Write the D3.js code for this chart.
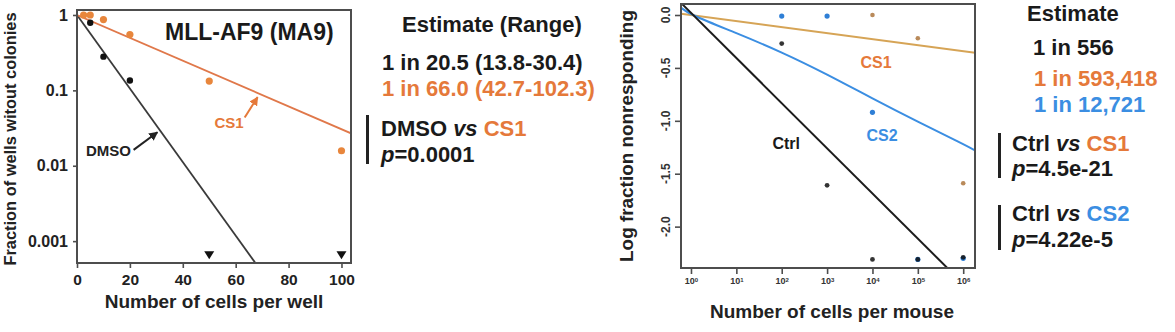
<!DOCTYPE html>
<html><head><meta charset="utf-8">
<script src="https://cdn.jsdelivr.net/npm/d3@7"></script>
<style>
html,body{margin:0;padding:0;background:#fff;}
svg{display:block;font-family:"Liberation Sans",Arial,Helvetica,sans-serif;}
</style></head><body>
<svg id="chart" width="1175" height="332"></svg>
<script>
// ---------- Left panel: colony-forming limiting dilution (MLL-AF9) ----------
const wellTicks = [0, 20, 40, 60, 80, 100];
const fractionTicks = [1, 0.1, 0.01, 0.001];
const fractionTickLabels = ["1", "0.1", "0.01", "0.001"];
const dmsoDoses = [5, 10, 20];
const dmsoFraction = [0.79, 0.28, 0.135];
const dmsoZeroDoses = [50, 100];          // no colony-free wells: drawn as triangles at floor
const dmsoZeroLevel = 0.00065;
const cs1WellDoses = [2.5, 5, 10, 20, 50, 100];
const cs1WellFraction = [1.0, 1.0, 0.87, 0.55, 0.133, 0.0158];
const wellEstimates = { dmso: 20.5, cs1: 66.0 };   // 1 in N

// ---------- Right panel: in vivo limiting dilution ----------
const mouseTicks = [1, 10, 100, 1e3, 1e4, 1e5, 1e6];
const logFracTicks = [0, -0.5, -1, -1.5, -2];
const logFracTickLabels = ["0.0", "-0.5", "-1.0", "-1.5", "-2.0"];
const mouseDoses = [1e2, 1e3, 1e4, 1e5, 1e6];
const ctrlLogFrac = [-0.27, -1.61, -2.31, -2.31, -2.29];
const cs2LogFrac = [-0.01, -0.01, -0.92, -2.31, -2.30];
const cs1MouseDoses = [1e4, 1e5, 1e6];
const cs1LogFrac = [0.0, -0.22, -1.59];
// fitted lines
const ctrlFitDoses = [0.6026, 1e6];
const ctrlFitVals = [0.114, -2.54];
const cs1FitDoses = [0.6026, 1.82e6];
const cs1FitVals = [0.013, -0.357];
const cs2FitDoses = [0.6026, 1, 10, 100, 1e3, 1e4, 1e5, 1e6, 1.82e6];
const cs2FitVals = [0.07, 0.0, -0.17, -0.35, -0.56, -0.79, -1.01, -1.22, -1.28];

const BLACK = "#1c1c1c", ORANGE = "#e5793a", ORANGE_LINE = "#e0784a",
      TAN = "#d6a456", BLUE = "#3b8ee2", FRAME = "#4d4d4d";

const svg = d3.select("#chart");
const defs = svg.append("defs");
function arrowMarker(id, color) {
  defs.append("marker").attr("id", id).attr("viewBox", "0 0 10 10")
    .attr("refX", 9).attr("refY", 5).attr("markerWidth", 9).attr("markerHeight", 9)
    .attr("markerUnits", "userSpaceOnUse").attr("orient", "auto")
    .append("path").attr("d", "M0,0 L10,5 L0,10 z").attr("fill", color);
}
arrowMarker("arrBlack", "#222");
arrowMarker("arrOrange", ORANGE);

// ===== Left panel =====
const L = { left: 77, right: 351, top: 10, bottom: 263 };
const xL = d3.scaleLinear().domain([0, 103.6]).range([L.left, L.right]);
const yL = d3.scaleLog().domain([Math.pow(10, -3.29), Math.pow(10, 0.066)]).range([L.bottom, L.top]);

const gL = svg.append("g");
gL.append("defs").append("clipPath").attr("id", "clipL")
  .append("rect").attr("x", L.left).attr("y", L.top)
  .attr("width", L.right - L.left).attr("height", L.bottom - L.top);

// fitted single-hit lines: fraction = 10^(-dose / estimate)
const fitLine = d3.line().x(d => xL(d[0])).y(d => yL(d[1]));
[["dmso", "#3a3a3a"], ["cs1", ORANGE_LINE]].forEach(([k, c]) => {
  const est = wellEstimates[k];
  const xEnd = 103.6;
  gL.append("path")
    .attr("d", fitLine([[0, 1], [xEnd, Math.pow(10, -xEnd / est)]]))
    .attr("clip-path", "url(#clipL)")
    .attr("fill", "none").attr("stroke", c).attr("stroke-width", 1.8);
});

gL.selectAll(".cs1pt").data(cs1WellDoses).join("circle")
  .attr("cx", (d) => xL(d)).attr("cy", (d, i) => yL(cs1WellFraction[i]))
  .attr("r", 3.6).attr("fill", "#e8863c");
gL.selectAll(".dmsopt").data(dmsoDoses).join("circle")
  .attr("cx", d => xL(d)).attr("cy", (d, i) => yL(dmsoFraction[i]))
  .attr("r", 3.2).attr("fill", "#111");
gL.selectAll(".tri").data(dmsoZeroDoses).join("path")
  .attr("transform", d => `translate(${xL(d)},${yL(dmsoZeroLevel)})`)
  .attr("d", "M-5,-4 L5,-4 L0,4 z").attr("fill", "#111");

// axes
const axXL = gL.append("g").attr("transform", `translate(0,${L.bottom})`)
  .call(d3.axisBottom(xL).tickValues(wellTicks).tickSize(5).tickPadding(6).tickSizeOuter(0));
const axYL = gL.append("g").attr("transform", `translate(${L.left},0)`)
  .call(d3.axisLeft(yL).tickValues(fractionTicks).tickSize(4).tickPadding(5).tickSizeOuter(0)
    .tickFormat((d, i) => fractionTickLabels[i]));
[axXL, axYL].forEach(a => {
  a.select(".domain").remove();
  a.selectAll("line").attr("stroke", FRAME).attr("stroke-width", 1.6);
  a.selectAll("text").attr("font-size", 15.5).attr("font-weight", "bold").attr("fill", "#222")
    .attr("font-family", '"Liberation Sans", Arial, sans-serif');
});
axYL.selectAll("text").attr("font-size", 16);
gL.append("rect").attr("x", L.left).attr("y", L.top)
  .attr("width", L.right - L.left).attr("height", L.bottom - L.top)
  .attr("fill", "none").attr("stroke", FRAME).attr("stroke-width", 2);

gL.append("text").attr("x", 214).attr("y", 308).attr("text-anchor", "middle")
  .attr("font-size", 19).attr("font-weight", "bold").attr("fill", "#222")
  .text("Number of cells per well");
gL.append("text").attr("transform", "translate(16,139) rotate(-90)").attr("text-anchor", "middle")
  .attr("font-size", 16.4).attr("font-weight", "bold").attr("fill", "#222")
  .text("Fraction of wells witout colonies");
gL.append("text").attr("x", 165).attr("y", 40).attr("font-size", 23)
  .attr("font-weight", "bold").attr("fill", "#1a1a1a").text("MLL-AF9 (MA9)");

// labels with arrows
gL.append("text").attr("x", xL(57.5)).attr("y", yL(Math.pow(10, -1.42)) + 6)
  .attr("text-anchor", "middle").attr("font-size", 15).attr("font-weight", "bold")
  .attr("fill", ORANGE).text("CS1");
gL.append("line").attr("x1", xL(63.4)).attr("y1", yL(Math.pow(10, -1.36)))
  .attr("x2", xL(68.3)).attr("y2", yL(Math.pow(10, -1.09)))
  .attr("stroke", ORANGE).attr("stroke-width", 2).attr("marker-end", "url(#arrOrange)");
gL.append("text").attr("x", xL(11.9)).attr("y", yL(Math.pow(10, -1.793)) + 6)
  .attr("text-anchor", "middle").attr("font-size", 15).attr("font-weight", "bold")
  .attr("fill", "#222").text("DMSO");
gL.append("line").attr("x1", xL(21.4)).attr("y1", yL(Math.pow(10, -1.79)))
  .attr("x2", xL(30.4)).attr("y2", yL(Math.pow(10, -1.555)))
  .attr("stroke", "#222").attr("stroke-width", 2).attr("marker-end", "url(#arrBlack)");

// estimate block (left)
const tb = svg.append("g").attr("font-size", 22).attr("font-weight", "bold");
tb.append("text").attr("x", 402).attr("y", 32).attr("fill", "#1a1a1a").text("Estimate (Range)");
tb.append("text").attr("x", 382).attr("y", 70).attr("fill", "#1a1a1a").text("1 in 20.5 (13.8-30.4)");
tb.append("text").attr("x", 382).attr("y", 96).attr("fill", ORANGE).text("1 in 66.0 (42.7-102.3)");
tb.append("rect").attr("x", 366).attr("y", 115).attr("width", 3).attr("height", 49).attr("fill", "#222");
const t1 = tb.append("text").attr("x", 381).attr("y", 136).attr("fill", "#1a1a1a");
t1.append("tspan").text("DMSO ");
t1.append("tspan").attr("font-style", "italic").text("vs ");
t1.append("tspan").attr("fill", ORANGE).text("CS1");
const t2 = tb.append("text").attr("x", 381).attr("y", 162).attr("fill", "#1a1a1a");
t2.append("tspan").attr("font-style", "italic").text("p");
t2.append("tspan").text("=0.0001");

// ===== Right panel =====
const R = { left: 681, right: 975, top: 4, bottom: 268 };
const xR = d3.scaleLog().domain([Math.pow(10, -0.22), Math.pow(10, 6.26)]).range([R.left, R.right]);
const yR = d3.scaleLinear().domain([-2.391, 0.104]).range([R.bottom, R.top]);
const gR = svg.append("g");
gR.append("defs").append("clipPath").attr("id", "clipR")
  .append("rect").attr("x", R.left).attr("y", R.top)
  .attr("width", R.right - R.left).attr("height", R.bottom - R.top);

const zipR = (a, b) => a.map((d, i) => [d, b[i]]);
const straightR = d3.line().x(d => xR(d[0])).y(d => yR(d[1]));
const smoothR = d3.line().x(d => xR(d[0])).y(d => yR(d[1])).curve(d3.curveBasis);
gR.append("path").attr("d", straightR(zipR(cs1FitDoses, cs1FitVals))).attr("clip-path", "url(#clipR)")
  .attr("fill", "none").attr("stroke", TAN).attr("stroke-width", 2);
gR.append("path").attr("d", smoothR(zipR(cs2FitDoses, cs2FitVals)))
  .attr("clip-path", "url(#clipR)")
  .attr("fill", "none").attr("stroke", BLUE).attr("stroke-width", 2);
gR.append("path").attr("d", straightR(zipR(ctrlFitDoses, ctrlFitVals)))
  .attr("clip-path", "url(#clipR)")
  .attr("fill", "none").attr("stroke", BLACK).attr("stroke-width", 2);

gR.selectAll(".c1").data(cs1MouseDoses).join("circle")
  .attr("cx", d => xR(d)).attr("cy", (d, i) => yR(cs1LogFrac[i])).attr("r", 2.3).attr("fill", "#b98a5a");
gR.selectAll(".c2").data(mouseDoses).join("circle")
  .attr("cx", d => xR(d)).attr("cy", (d, i) => yR(cs2LogFrac[i])).attr("r", 2.6).attr("fill", "#2f7fd6");
gR.selectAll(".ct").data(mouseDoses).join("circle")
  .attr("cx", d => xR(d)).attr("cy", (d, i) => yR(ctrlLogFrac[i])).attr("r", 2.4).attr("fill", "#111")
  .attr("fill-opacity", 0.85);

const axXR = gR.append("g").attr("transform", `translate(0,${R.bottom})`)
  .call(d3.axisBottom(xR).tickValues(mouseTicks).tickSize(6).tickPadding(4).tickSizeOuter(0)
    .tickFormat(() => ""));
axXR.select(".domain").remove();
axXR.selectAll("line").attr("stroke", FRAME).attr("stroke-width", 1.6);
axXR.selectAll(".tick text").each(function (d) {
  const t = d3.select(this).attr("font-size", 9).attr("font-weight", "bold").attr("fill", "#333")
    .attr("font-family", '"Liberation Sans", Arial, sans-serif');
  t.append("tspan").text("10");
  t.append("tspan").attr("font-size", 6).attr("dy", "-0.45em").text(Math.round(Math.log10(d)));
});
const axYR = gR.append("g").attr("transform", `translate(${R.left},0)`)
  .call(d3.axisLeft(yR).tickValues(logFracTicks).tickSize(6).tickSizeOuter(0).tickFormat(() => ""));
axYR.select(".domain").remove();
axYR.selectAll("line").attr("stroke", FRAME).attr("stroke-width", 1.6);
gR.selectAll(".ylab").data(logFracTicks).join("text")
  .attr("transform", d => `translate(670,${yR(d)}) rotate(-90)`)
  .attr("text-anchor", "middle").attr("font-size", 12).attr("font-weight", "bold").attr("fill", "#333")
  .text((d, i) => logFracTickLabels[i]);
gR.append("rect").attr("x", R.left).attr("y", R.top)
  .attr("width", R.right - R.left).attr("height", R.bottom - R.top)
  .attr("fill", "none").attr("stroke", FRAME).attr("stroke-width", 2);

gR.append("text").attr("x", 832).attr("y", 318).attr("text-anchor", "middle")
  .attr("font-size", 19).attr("font-weight", "bold").attr("fill", "#222")
  .text("Number of cells per mouse");
gR.append("text").attr("transform", "translate(633,136) rotate(-90)").attr("text-anchor", "middle")
  .attr("font-size", 18.9).attr("font-weight", "bold").attr("fill", "#222")
  .text("Log fraction nonresponding");

gR.append("text").attr("x", xR(Math.pow(10, 4.08))).attr("y", yR(-0.444) + 6).attr("text-anchor", "middle")
  .attr("font-size", 16).attr("font-weight", "bold").attr("fill", ORANGE).text("CS1");
gR.append("text").attr("x", xR(Math.pow(10, 4.21))).attr("y", yR(-1.13) + 6).attr("text-anchor", "middle")
  .attr("font-size", 16).attr("font-weight", "bold").attr("fill", BLUE).text("CS2");
gR.append("text").attr("x", xR(Math.pow(10, 2.1))).attr("y", yR(-1.21) + 6).attr("text-anchor", "middle")
  .attr("font-size", 16).attr("font-weight", "bold").attr("fill", "#1a1a1a").text("Ctrl");

// estimate block (right)
const tr = svg.append("g").attr("font-size", 22).attr("font-weight", "bold");
tr.append("text").attr("x", 1027).attr("y", 21).attr("fill", "#1a1a1a").text("Estimate");
tr.append("text").attr("x", 1033).attr("y", 55).attr("fill", "#1a1a1a").text("1 in 556");
tr.append("text").attr("x", 1034).attr("y", 86).attr("fill", ORANGE).text("1 in 593,418");
tr.append("text").attr("x", 1034).attr("y", 112).attr("fill", BLUE).text("1 in 12,721");
tr.append("rect").attr("x", 998).attr("y", 133).attr("width", 3).attr("height", 45).attr("fill", "#222");
const r1 = tr.append("text").attr("x", 1012).attr("y", 151).attr("fill", "#1a1a1a");
r1.append("tspan").text("Ctrl ");
r1.append("tspan").attr("font-style", "italic").text("vs ");
r1.append("tspan").attr("fill", ORANGE).text("CS1");
const r2 = tr.append("text").attr("x", 1012).attr("y", 176).attr("fill", "#1a1a1a");
r2.append("tspan").attr("font-style", "italic").text("p");
r2.append("tspan").text("=4.5e-21");
tr.append("rect").attr("x", 998).attr("y", 205).attr("width", 3).attr("height", 45).attr("fill", "#222");
const r3 = tr.append("text").attr("x", 1012).attr("y", 221).attr("fill", "#1a1a1a");
r3.append("tspan").text("Ctrl ");
r3.append("tspan").attr("font-style", "italic").text("vs ");
r3.append("tspan").attr("fill", BLUE).text("CS2");
const r4 = tr.append("text").attr("x", 1012).attr("y", 247).attr("fill", "#1a1a1a");
r4.append("tspan").attr("font-style", "italic").text("p");
r4.append("tspan").text("=4.22e-5");
</script>
</body></html>
